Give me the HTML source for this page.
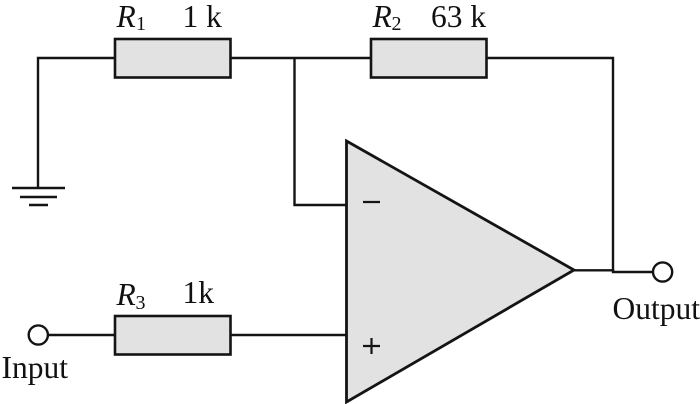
<!DOCTYPE html>
<html>
<head>
<meta charset="utf-8">
<style>
html,body{margin:0;padding:0;background:#fff;width:700px;height:404px;overflow:hidden}
svg{display:block}
text{font-family:"Liberation Serif",serif;fill:#111}
</style>
</head>
<body>
<svg width="700" height="404" viewBox="0 0 700 404" xmlns="http://www.w3.org/2000/svg">
<g fill="none" stroke="#141414" stroke-width="2.4">
<path d="M115 58H38V188"/>
<path d="M231 58H371"/>
<path d="M294.500 58V205H346"/>
<path d="M487 58H613V271"/>
<path d="M574 270.300H613V272H653"/>
<path d="M48 335H115"/>
<path d="M231 335H346"/>
<path d="M12 188H65"/>
<path d="M20 197H57"/>
<path d="M29 205H48"/>
</g>
<g fill="#e2e2e2" stroke="#141414" stroke-width="2.600">
<rect x="115" y="39" width="115.500" height="38.500"/>
<rect x="371" y="39" width="115.500" height="38.500"/>
<rect x="115" y="316" width="115.500" height="38.500"/>
<path d="M346.500 141L574 270L346.500 402Z" stroke-width="2.800"/>
</g>
<g fill="#fff" stroke="#141414" stroke-width="2.400">
<circle cx="38.300" cy="335" r="9.600"/>
<circle cx="662.600" cy="272" r="9.600"/>
</g>
<g stroke="#141414" stroke-width="2.200" fill="none">
<path d="M363 202H380"/>
<path d="M363 346H380M371.500 338V354"/>
</g>
<text x="116.500" y="27" font-size="31.500" font-style="italic">R</text>
<text x="136" y="30" font-size="20">1</text>
<text x="182.500" y="27" font-size="31.500">1 k</text>
<text x="372.500" y="27" font-size="31.500" font-style="italic">R</text>
<text x="391.500" y="30" font-size="20">2</text>
<text x="431" y="27" font-size="31.500">63 k</text>
<text x="116.500" y="305" font-size="31.500" font-style="italic">R</text>
<text x="135.500" y="309" font-size="20">3</text>
<text x="182.500" y="303" font-size="31.500">1k</text>
<text x="1.500" y="378" font-size="31.500">Input</text>
<text x="612.500" y="319" font-size="31.500">Output</text>
</svg>
</body>
</html>
